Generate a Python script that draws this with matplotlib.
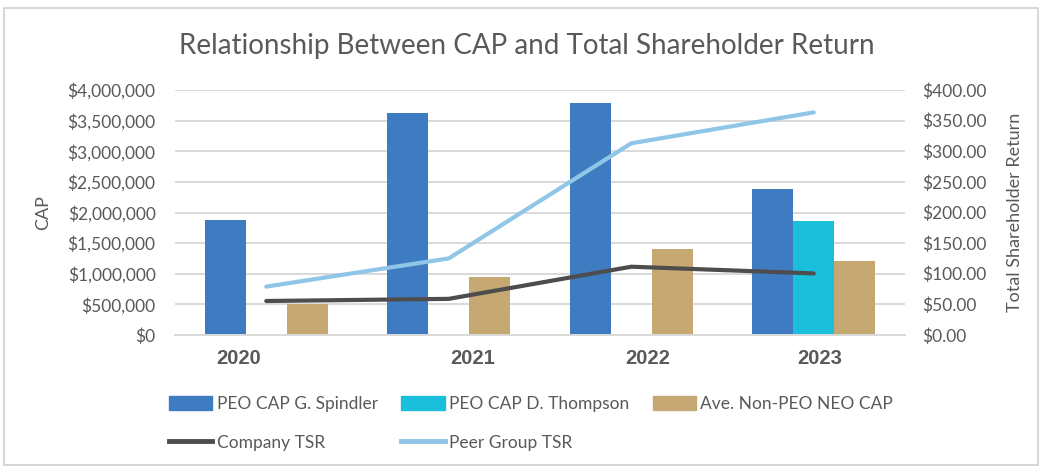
import matplotlib
matplotlib.use("Agg")
import matplotlib.pyplot as plt
from matplotlib.lines import Line2D
from matplotlib.patches import Patch
from matplotlib.ticker import FuncFormatter
import numpy as np

# data
years = ["2020", "2021", "2022", "2023"]
cap_spindler = [1880000, 3630000, 3780000, 2380000]
cap_thompson = [0, 0, 0, 1860000]
cap_non_peo = [505000, 950000, 1405000, 1210000]
tsr_company = [55.5, 59.0, 111.5, 100.5]
tsr_peer = [79.0, 125.0, 313.0, 363.5]

# the year labels sit off-centre in the original (Excel quirk)
_LABEL_SHIFT = [-0.15, 0.13, 0.09, 0.03]

_BLUE = "#3f7bc1"
_CYAN = "#1bbfdc"
_TAN = "#c6a972"
_DARK = "#4d4d4d"
_LIGHT = "#8fc6e8"
_TXT = "#595959"
_GRID = "#d9d9d9"

plt.rcParams["font.family"] = ["Lato", "DejaVu Sans"]

fig = plt.figure(figsize=(10.39, 4.67), dpi=100)
ax = fig.add_axes([175 / 1039, 1 - 335 / 467, 730 / 1039, 245 / 467])
x = np.arange(len(years))
w = 0.225

ax.bar(x - w, cap_spindler, w, color=_BLUE, zorder=2)
ax.bar(x, cap_thompson, w, color=_CYAN, zorder=2)
ax.bar(x + w, cap_non_peo, w, color=_TAN, zorder=2)

ax.set_xlim(-0.5, 3.5)
ax.set_ylim(0, 4000000)
ax.set_yticks(np.arange(0, 4000001, 500000))
ax.yaxis.set_major_formatter(FuncFormatter(lambda v, _: f"${v:,.0f}"))
ax.grid(axis="y", color=_GRID, lw=1.4, zorder=0)
ax.set_xticks(x + np.array(_LABEL_SHIFT))
ax.set_xticklabels(years, fontfamily="Liberation Sans", fontweight="bold", fontsize=14.5, color=_TXT)
ax.tick_params(axis="x", length=0, pad=10)
ax.tick_params(axis="y", length=0, pad=14, labelsize=12.5, labelcolor=_TXT)
for s in ["top", "left", "right"]:
    ax.spines[s].set_visible(False)
ax.spines["bottom"].set_color(_GRID)
ax.spines["bottom"].set_linewidth(1.4)
ax.set_ylabel("CAP", fontsize=13, color=_TXT)
ax.yaxis.set_label_coords(-0.17, 0.5)

ax2 = ax.twinx()
ax2.plot(x, tsr_company, color=_DARK, lw=3, solid_capstyle="round", zorder=3)
ax2.plot(x, tsr_peer, color=_LIGHT, lw=3, solid_capstyle="round", zorder=3)
ax2.set_ylim(0, 400)
ax2.set_yticks(np.arange(0, 401, 50))
ax2.yaxis.set_major_formatter(FuncFormatter(lambda v, _: f"${v:,.2f}"))
ax2.tick_params(axis="y", length=0, pad=12, labelsize=12.5, labelcolor=_TXT)
for s in ax2.spines.values():
    s.set_visible(False)
ax2.set_ylabel("Total Shareholder Return", fontsize=13, color=_TXT)
ax2.yaxis.set_label_coords(1.14, 0.5)

fig.text(527 / 1039, 1 - 46 / 467, "Relationship Between CAP and Total Shareholder Return",
         ha="center", va="center", fontsize=20, color=_TXT)

handles = [
    Patch(color=_BLUE, label="PEO CAP G. Spindler"),
    Line2D([], [], color=_DARK, lw=3.5, label="Company TSR"),
    Patch(color=_CYAN, label="PEO CAP D. Thompson"),
    Line2D([], [], color=_LIGHT, lw=3.5, label="Peer Group TSR"),
    Patch(color=_TAN, label="Ave. Non-PEO NEO CAP"),
]
leg = fig.legend(handles=handles, ncol=3, loc="upper left",
                 bbox_to_anchor=(169 / 1039, 1 - 396 / 467), frameon=False,
                 fontsize=12.5, borderpad=0, borderaxespad=0, handlelength=2.5,
                 handleheight=0.8, handletextpad=0.25, labelspacing=1.3,
                 columnspacing=1.35)
for t in leg.get_texts():
    t.set_color(_TXT)

# light frame round the whole chart
fig.add_artist(plt.Rectangle((4 / 1039, 2 / 467), 1 - 5 / 1039, 1 - 10 / 467,
                             transform=fig.transFigure, fill=False, ec="#d0d0d0", lw=1.2))

fig.savefig("out.png", dpi=100)
